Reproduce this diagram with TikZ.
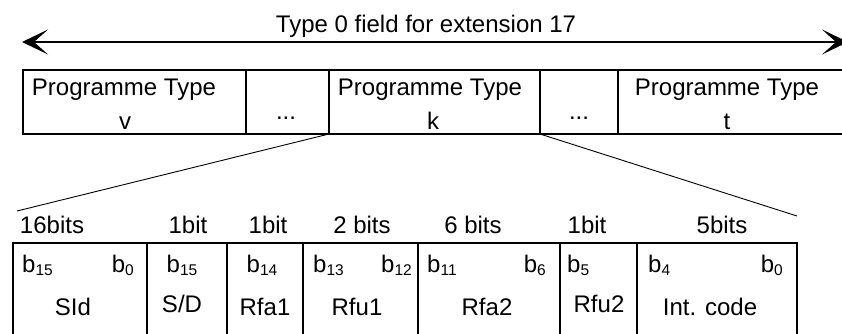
\documentclass[tikz,border=0pt]{standalone}
\usepackage{fontspec}
\setmainfont{Liberation Sans}
\usetikzlibrary{arrows.meta}

\newcommand{\bitsub}[1]{\raisebox{-3pt}{\fontsize{15.5}{16}\selectfont #1}}

\tikzset{
  txt/.style={font=\fontsize{24}{28}\selectfont, inner sep=0pt, anchor=base},
  frame/.style={line width=2pt},
  zoomline/.style={line width=0.9pt},
  bighead/.tip={Stealth[length=26pt, width=25pt, inset=14pt]},
}

\begin{document}
\begin{tikzpicture}[x=1pt, y=-1pt]
  \useasboundingbox (0,0) rectangle (842,333);

  % Extent arrow over the whole field
  \coordinate (arrL) at (22,42);
  \coordinate (arrR) at (848,42);
  \draw[frame, bighead-bighead] (arrL) -- (arrR);
  \node[txt] (title) at (426,32) {Type 0 field for extension 17};

  % Programme type row (open at the right)
  \draw[frame] (842,70) -- (23,70) -- (23,134) -- (842,134);
  \foreach \x in {246,329,540,618}
    \draw[frame] (\x,70) -- (\x,134);
  \coordinate (ptk-sw) at (329,134);
  \coordinate (ptk-se) at (540,134);

  \node[txt] (ptv)  at (124,95)  {Programme Type};
  \node[txt] (ptvl) at (125,129) {v};
  \node[txt] (dots1) at (286,119) {...};
  \node[txt] (ptk)  at (430,95)  {Programme Type};
  \node[txt] (ptkl) at (433,129) {k};
  \node[txt] (dots2) at (579,119) {...};
  \node[txt] (ptt)  at (727,95)  {Programme Type};
  \node[txt] (pttl) at (727,129) {t};

  % Zoom lines from programme type k
  \coordinate (zoomL) at (17,211);
  \coordinate (zoomR) at (797,216);
  \draw[zoomline] (ptk-sw) -- (zoomL);
  \draw[zoomline] (ptk-se) -- (zoomR);

  % Bit field row (cut off at the bottom)
  \draw[frame] (13,336) -- (13,243) -- (797,243) -- (797,336);
  \foreach \x in {147,227,303,418,560,637}
    \draw[frame] (\x,243) -- (\x,336);

  % Field widths
  \node[txt] (w-sid)  at (52,233)  {16bits};
  \node[txt] (w-sd)   at (188,233) {1bit};
  \node[txt] (w-rfa1) at (268,233) {1bit};
  \node[txt] (w-rfu1) at (362,233) {2 bits};
  \node[txt] (w-rfa2) at (473,233) {6 bits};
  \node[txt] (w-rfu2) at (587,233) {1bit};
  \node[txt] (w-int)  at (722,233) {5bits};

  % Bit positions
  \node[txt, anchor=base west] (b-sid-hi)  at (22,272)  {b\bitsub{15}};
  \node[txt, anchor=base east] (b-sid-lo)  at (134,272) {b\bitsub{0}};
  \node[txt] (b-sd)  at (182,272) {b\bitsub{15}};
  \node[txt] (b-rfa1) at (262,272) {b\bitsub{14}};
  \node[txt, anchor=base west] (b-rfu1-hi) at (313,272) {b\bitsub{13}};
  \node[txt, anchor=base east] (b-rfu1-lo) at (412,272) {b\bitsub{12}};
  \node[txt, anchor=base west] (b-rfa2-hi) at (427,272) {b\bitsub{11}};
  \node[txt, anchor=base east] (b-rfa2-lo) at (546,272) {b\bitsub{6}};
  \node[txt, anchor=base west] (b-rfu2)    at (567,272) {b\bitsub{5}};
  \node[txt, anchor=base west] (b-int-hi)  at (648,272) {b\bitsub{4}};
  \node[txt, anchor=base east] (b-int-lo)  at (783,272) {b\bitsub{0}};

  % Field names
  \node[txt] (n-sid)  at (73,315)  {SId};
  \node[txt] (n-sd)   at (182,312) {S/D};
  \node[txt] (n-rfa1) at (265,315) {Rfa1};
  \node[txt] (n-rfu1) at (357,315) {Rfu1};
  \node[txt] (n-rfa2) at (487,315) {Rfa2};
  \node[txt] (n-rfu2) at (599,312) {Rfu2};
  \node[txt] (n-int)  at (710,315) {Int. code};

\end{tikzpicture}
\end{document}
